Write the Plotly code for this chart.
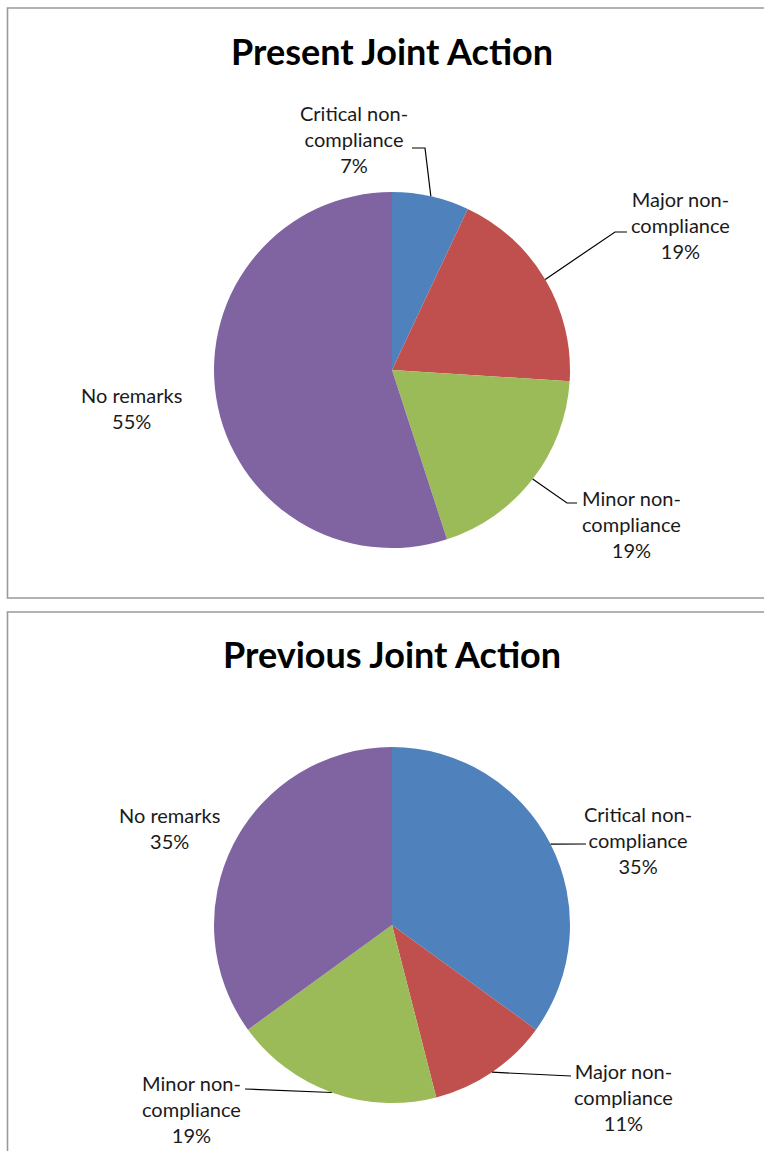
import math
import plotly.graph_objects as go

# ---- data ----
categories = ["Critical non-compliance", "Major non-compliance",
              "Minor non-compliance", "No remarks"]
present_values = [7, 19, 19, 55]
previous_values = [35, 11, 19, 35]
titles = ["Present Joint Action", "Previous Joint Action"]
colors = ["#4F81BD", "#C0504D", "#9BBB59", "#8064A2"]

# ---- layout constants (pixels) ----
W, H = 764, 1151
R = 178


def px(x):
    return x / W


def py(y):
    return 1 - y / H


panels = [
    dict(values=present_values, title=titles[0], cx=392, cy=370, title_y=51,
         box=(7.5, 8, 800, 598),
         label_pos=[(354, 139), (680, 225), (631, 524), (131, 408)],
         elbows=[[(425, 148), (412, 148)], [(615, 232), (627, 232)],
                 [(567, 503), (577, 503)], None]),
    dict(values=previous_values, title=titles[1], cx=392, cy=925, title_y=654,
         box=(7.5, 612, 800, 1200),
         label_pos=[(638, 840), (623, 1097), (191, 1109), (169, 828)],
         elbows=[[(586, 844)], [(571, 1076)], [(245, 1089)], None]),
]

fig = go.Figure()
shapes = []
annotations = []

for p in panels:
    cx, cy = p["cx"], p["cy"]
    x0, y0, x1, y1 = p["box"]
    shapes.append(dict(type="rect", xref="paper", yref="paper",
                       x0=px(x0), x1=px(x1), y0=py(y0), y1=py(y1),
                       line=dict(color="#9a9a9a", width=1.6),
                       fillcolor="rgba(0,0,0,0)", layer="below"))
    fig.add_trace(go.Pie(
        values=p["values"], labels=categories, sort=False,
        direction="clockwise", rotation=0,
        marker=dict(colors=colors, line=dict(width=0)),
        textinfo="none", hoverinfo="label+percent", showlegend=False,
        domain=dict(x=[px(cx - R), px(cx + R)], y=[py(cy + R), py(cy - R)]),
    ))
    annotations.append(dict(
        text="<b>%s</b>" % p["title"], xref="paper", yref="paper",
        x=px(cx), y=py(p["title_y"]), xanchor="center", yanchor="middle",
        showarrow=False, font=dict(family="Lato", size=36, color="#000000")))

    total = float(sum(p["values"]))
    cum = 0.0
    for i, (cat, v) in enumerate(zip(categories, p["values"])):
        mid = (cum + v / 2.0) / total
        cum += v
        ang = 2 * math.pi * mid
        ex, ey = cx + R * math.sin(ang), cy - R * math.cos(ang)
        lx, ly = p["label_pos"][i]
        text = cat.replace("non-", "non-<br>") + "<br>%d%%" % round(100 * v / total)
        annotations.append(dict(
            text=text, xref="paper", yref="paper", x=px(lx), y=py(ly),
            xanchor="center", yanchor="middle", showarrow=False, align="center",
            font=dict(family="Lato", size=20, color="#1a1a1a")))
        if p["elbows"][i]:
            pts = [(ex, ey)] + p["elbows"][i]
            path = "M " + " L ".join("%f,%f" % (px(a), py(b)) for a, b in pts)
            shapes.append(dict(type="path", xref="paper", yref="paper", path=path,
                               line=dict(color="#000000", width=1.2)))

fig.update_layout(
    width=W, height=H, margin=dict(l=0, r=0, t=0, b=0),
    paper_bgcolor="white", plot_bgcolor="white",
    shapes=shapes, annotations=annotations,
)

fig.write_html("out.html")
